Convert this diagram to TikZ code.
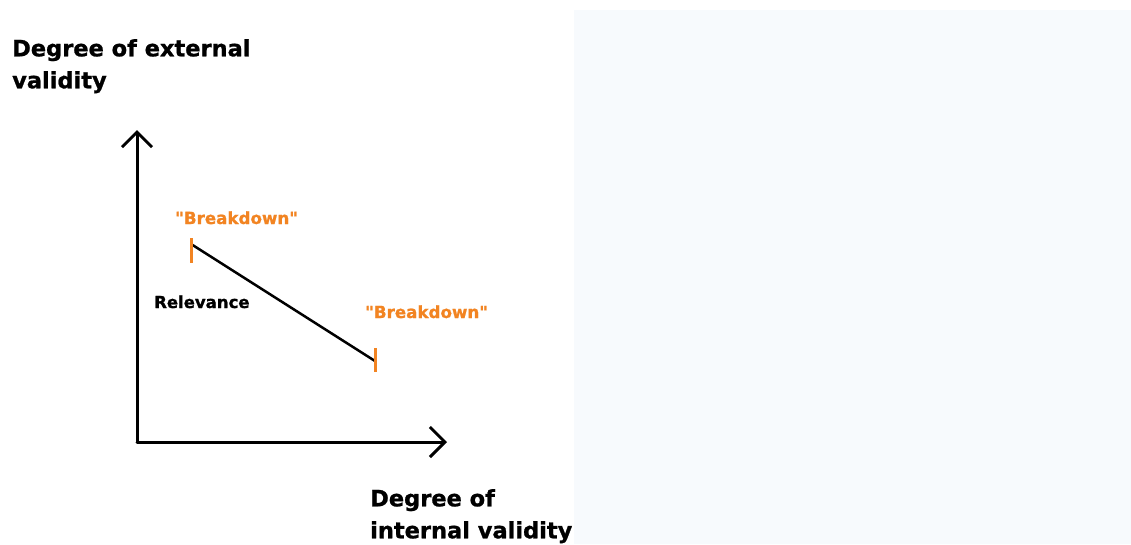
\documentclass[tikz,border=0pt]{standalone}
\usepackage{fontspec}
\setmainfont{DejaVu Sans}[Ligatures=TeXOff,BoldFeatures={FakeBold=1}]
\usepackage{tikz}
\usetikzlibrary{arrows.meta,calc}
\definecolor{breakorange}{RGB}{242,132,34}
\definecolor{panelgrey}{RGB}{247,250,253}

\begin{document}
\begin{tikzpicture}[x=1pt,y=-1pt,
  axis/.style={line width=3pt,line cap=round,-{Straight Barb[length=15pt,width=30pt]}},
  relline/.style={line width=2.5pt},
  tickmark/.style={breakorange,line width=3pt},
  axislabel/.style={inner sep=0pt,anchor=north west,align=left,font=\bfseries\fontsize{22.5}{32}\selectfont},
  smalllabel/.style={inner sep=0pt,anchor=base west,font=\bfseries\fontsize{16.5}{20}\selectfont},
  breaklabel/.style={smalllabel,text=breakorange,font=\bfseries\fontsize{16.7}{20}\selectfont}]
\useasboundingbox (0,0) rectangle (1131,544);
\fill[white] (0,0) rectangle (1131,544);
\fill[panelgrey] (574,10) rectangle (1131,544);

\coordinate (origin) at (137,442);
\coordinate (ytip) at (137,130);
\coordinate (xtip) at (447,442);
\draw[axis] (origin) -- (ytip);
\draw[axis] (origin) -- (xtip);

\coordinate (hi) at (191,244);
\coordinate (lo) at (375,361);
\draw[relline] (hi) -- (lo);
\draw[tickmark] ($(hi)+(0,-6)$) -- ($(hi)+(0,19)$);
\draw[tickmark] ($(lo)+(0,-13)$) -- ($(lo)+(0,11)$);

\node[axislabel] (extlabel) at (12,39) {Degree of external\\validity};
\node[axislabel] (intlabel) at (370,489) {Degree of\\internal validity};
\node[smalllabel] (relevance) at (154,308) {Relevance};
\node[breaklabel] (breakhi) at (175,224) {"Breakdown"};
\node[breaklabel] (breaklo) at (365,318) {"Breakdown"};
\end{tikzpicture}
\end{document}
